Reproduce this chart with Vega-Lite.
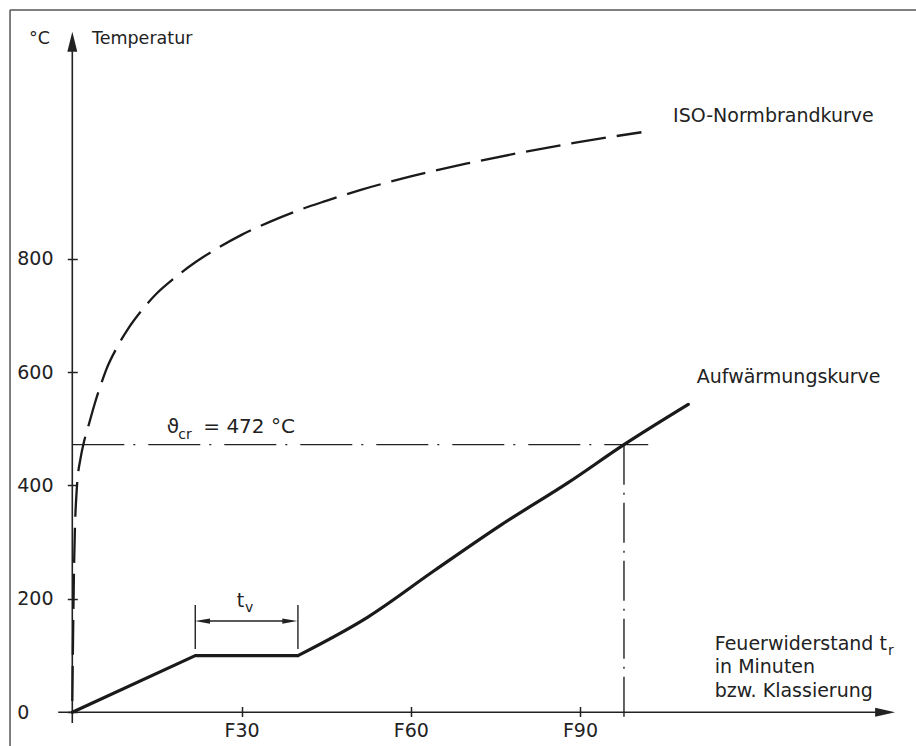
{
  "$schema": "https://vega.github.io/schema/vega-lite/v6.json",
  "width": 916,
  "height": 746,
  "padding": 0,
  "autosize": {"type": "none"},
  "background": "white",
  "config": {
    "view": {"stroke": null},
    "font": "DejaVu Sans",
    "text": {"font": "DejaVu Sans", "color": "#222222", "align": "left", "baseline": "alphabetic"}
  },
  "datasets": {
    "iso": [
      {"t": 0, "T": 20}, {"t": 0.3, "T": 250}, {"t": 0.8, "T": 395}, {"t": 1.5, "T": 450},
      {"t": 2, "T": 474}, {"t": 3, "T": 510}, {"t": 4, "T": 545}, {"t": 5, "T": 576},
      {"t": 6, "T": 604}, {"t": 8, "T": 645}, {"t": 10, "T": 678}, {"t": 12, "T": 705},
      {"t": 15, "T": 739}, {"t": 18, "T": 765}, {"t": 22, "T": 795}, {"t": 26, "T": 820},
      {"t": 30, "T": 842}, {"t": 35, "T": 865}, {"t": 40, "T": 885}, {"t": 45, "T": 902},
      {"t": 51, "T": 921}, {"t": 60, "T": 945}, {"t": 70, "T": 968}, {"t": 80, "T": 988},
      {"t": 90, "T": 1006}, {"t": 100.9, "T": 1023}
    ],
    "heatA": [
      {"t": 0, "T": 0}, {"t": 21.8, "T": 100}, {"t": 40, "T": 100}
    ],
    "heatB": [
      {"t": 40, "T": 100}, {"t": 52.4, "T": 168},
      {"t": 64.2, "T": 250}, {"t": 76.1, "T": 331}, {"t": 87.9, "T": 405}, {"t": 97.8, "T": 472},
      {"t": 109.2, "T": 543}
    ],
    "frame": [
      {"x": -11.04, "x2": 149.6, "y": 1238.6, "y2": 1238.6},
      {"x": -11.04, "x2": -11.04, "y": -59.4, "y2": 1238.6}
    ],
    "axes": [
      {"x": -2.5, "x2": 142.5, "y": 0, "y2": 0},
      {"x": 0, "x2": 0, "y": -19, "y2": 1166}
    ],
    "dims": [
      {"x": 21.8, "x2": 21.8, "y": 111.6, "y2": 189.2},
      {"x": 40, "x2": 40, "y": 111.6, "y2": 189.2},
      {"x": 23, "x2": 38.6, "y": 161, "y2": 161}
    ],
    "hcr": [{"x": 0, "x2": 102.1, "y": 472, "y2": 472}],
    "vcr": [{"x": 97.8, "x2": 97.8, "y": 472, "y2": -8}],
    "arrows": [
      {"dir": "up", "t": 0, "T": 1182.7},
      {"dir": "right", "t": 144.1, "T": 0},
      {"dir": "tvleft", "t": 23.08, "T": 161},
      {"dir": "tvright", "t": 38.56, "T": 161}
    ],
    "labels": [
      {"grp": "s17", "t": -7.68, "T": 1178.7, "text": "°C"},
      {"grp": "s17", "t": 3.49, "T": 1178.7, "text": "Temperatur"},
      {"grp": "s19", "t": 106.5, "T": 1041.6, "text": "ISO-Normbrandkurve"},
      {"grp": "s19", "t": 110.7, "T": 580.2, "text": "Aufwärmungskurve"},
      {"grp": "s19", "t": 113.9, "T": 109.9, "text": "Feuerwiderstand t"},
      {"grp": "s19", "t": 113.9, "T": 69.3, "text": "in Minuten"},
      {"grp": "s19", "t": 113.9, "T": 27, "text": "bzw. Klassierung"},
      {"grp": "s19", "t": 29.14, "T": 186.2, "text": "t"},
      {"grp": "s20", "t": 16.73, "T": 492.6, "text": "ϑ"},
      {"grp": "s20", "t": 23.22, "T": 492.6, "text": "= 472 °C"},
      {"grp": "sub", "t": 18.8, "T": 481.5, "text": "cr"},
      {"grp": "sub", "t": 30.6, "T": 177.4, "text": "v"},
      {"grp": "sub", "t": 144.6, "T": 101, "text": "r"}
    ]
  },
  "layer": [
    {
      "data": {"name": "frame"},
      "mark": {"type": "rule", "stroke": "#555555", "strokeWidth": 1.5},
      "encoding": {
        "x": {"field": "x", "type": "quantitative", "scale": {"domain": [-12.817, 149.57], "nice": false, "zero": false},
          "axis": {"values": [30, 60, 90], "labelExpr": "'F' + datum.value", "orient": "bottom", "offset": -39.5, "tickSize": 10, "tickWidth": 1.5, "tickColor": "#222222", "domain": false, "grid": false, "title": null, "labelFontSize": 19, "labelFont": "DejaVu Sans", "labelColor": "#222222", "labelPadding": 5.3, "labelFlush": false, "labelOverlap": false}},
        "x2": {"field": "x2"},
        "y": {"field": "y", "type": "quantitative", "scale": {"domain": [-59.44, 1256.26], "nice": false, "zero": false},
          "axis": {"values": [0, 200, 400, 600, 800], "orient": "left", "offset": -77.3, "tickSize": 10, "tickWidth": 1.5, "tickColor": "#222222", "domain": false, "grid": false, "title": null, "labelFontSize": 19, "labelFont": "DejaVu Sans", "labelColor": "#222222", "labelAlign": "left", "labelBaseline": "middle", "labelPadding": 50.6, "labelFlush": false, "labelOverlap": false}},
        "y2": {"field": "y2"}
      }
    },
    {
      "data": {"name": "axes"},
      "mark": {"type": "rule", "stroke": "#222222", "strokeWidth": 1.6},
      "encoding": {
        "x": {"field": "x", "type": "quantitative"}, "x2": {"field": "x2"},
        "y": {"field": "y", "type": "quantitative"}, "y2": {"field": "y2"}
      }
    },
    {
      "data": {"name": "dims"},
      "mark": {"type": "rule", "stroke": "#222222", "strokeWidth": 1.4},
      "encoding": {
        "x": {"field": "x", "type": "quantitative"}, "x2": {"field": "x2"},
        "y": {"field": "y", "type": "quantitative"}, "y2": {"field": "y2"}
      }
    },
    {
      "data": {"name": "hcr"},
      "mark": {"type": "rule", "stroke": "#222222", "strokeWidth": 1.4, "strokeDash": [52, 9, 2, 13]},
      "encoding": {
        "x": {"field": "x", "type": "quantitative"}, "x2": {"field": "x2"},
        "y": {"field": "y", "type": "quantitative"}, "y2": {"field": "y2"}
      }
    },
    {
      "data": {"name": "vcr"},
      "mark": {"type": "rule", "stroke": "#222222", "strokeWidth": 1.4, "strokeDash": [40, 8, 2, 8]},
      "encoding": {
        "x": {"field": "x", "type": "quantitative"}, "x2": {"field": "x2"},
        "y": {"field": "y", "type": "quantitative"}, "y2": {"field": "y2"}
      }
    },
    {
      "data": {"name": "iso"},
      "mark": {"type": "line", "stroke": "#1a1a1a", "strokeWidth": 2.3, "strokeDash": [35, 11], "interpolate": "monotone"},
      "encoding": {
        "x": {"field": "t", "type": "quantitative"},
        "y": {"field": "T", "type": "quantitative"}
      }
    },
    {
      "data": {"name": "heatA"},
      "mark": {"type": "line", "stroke": "#1a1a1a", "strokeWidth": 3.2, "strokeJoin": "round", "strokeCap": "round"},
      "encoding": {
        "x": {"field": "t", "type": "quantitative"},
        "y": {"field": "T", "type": "quantitative"}
      }
    },
    {
      "data": {"name": "heatB"},
      "mark": {"type": "line", "stroke": "#1a1a1a", "strokeWidth": 3.2, "strokeJoin": "round", "strokeCap": "round", "interpolate": "monotone"},
      "encoding": {
        "x": {"field": "t", "type": "quantitative"},
        "y": {"field": "T", "type": "quantitative"}
      }
    },
    {
      "data": {"name": "arrows"},
      "transform": [{"filter": "datum.dir === 'up'"}],
      "mark": {"type": "point", "shape": "M0,-1L-0.5,1L0.5,1Z", "size": 400, "filled": true, "color": "#222222", "opacity": 1},
      "encoding": {"x": {"field": "t", "type": "quantitative"}, "y": {"field": "T", "type": "quantitative"}}
    },
    {
      "data": {"name": "arrows"},
      "transform": [{"filter": "datum.dir === 'right'"}],
      "mark": {"type": "point", "shape": "M1,0L-1,-0.45L-1,0.45Z", "size": 400, "filled": true, "color": "#222222", "opacity": 1},
      "encoding": {"x": {"field": "t", "type": "quantitative"}, "y": {"field": "T", "type": "quantitative"}}
    },
    {
      "data": {"name": "arrows"},
      "transform": [{"filter": "datum.dir === 'tvleft'"}],
      "mark": {"type": "point", "shape": "M-1,0L1,-0.35L1,0.35Z", "size": 225, "filled": true, "color": "#222222", "opacity": 1},
      "encoding": {"x": {"field": "t", "type": "quantitative"}, "y": {"field": "T", "type": "quantitative"}}
    },
    {
      "data": {"name": "arrows"},
      "transform": [{"filter": "datum.dir === 'tvright'"}],
      "mark": {"type": "point", "shape": "M1,0L-1,-0.35L-1,0.35Z", "size": 225, "filled": true, "color": "#222222", "opacity": 1},
      "encoding": {"x": {"field": "t", "type": "quantitative"}, "y": {"field": "T", "type": "quantitative"}}
    },
    {
      "data": {"name": "labels"},
      "transform": [{"filter": "datum.grp === 's17'"}],
      "mark": {"type": "text", "fontSize": 17.5},
      "encoding": {"x": {"field": "t", "type": "quantitative"}, "y": {"field": "T", "type": "quantitative"}, "text": {"field": "text"}}
    },
    {
      "data": {"name": "labels"},
      "transform": [{"filter": "datum.grp === 's19'"}],
      "mark": {"type": "text", "fontSize": 19},
      "encoding": {"x": {"field": "t", "type": "quantitative"}, "y": {"field": "T", "type": "quantitative"}, "text": {"field": "text"}}
    },
    {
      "data": {"name": "labels"},
      "transform": [{"filter": "datum.grp === 's20'"}],
      "mark": {"type": "text", "fontSize": 20},
      "encoding": {"x": {"field": "t", "type": "quantitative"}, "y": {"field": "T", "type": "quantitative"}, "text": {"field": "text"}}
    },
    {
      "data": {"name": "labels"},
      "transform": [{"filter": "datum.grp === 'sub'"}],
      "mark": {"type": "text", "fontSize": 14},
      "encoding": {"x": {"field": "t", "type": "quantitative"}, "y": {"field": "T", "type": "quantitative"}, "text": {"field": "text"}}
    }
  ]
}
